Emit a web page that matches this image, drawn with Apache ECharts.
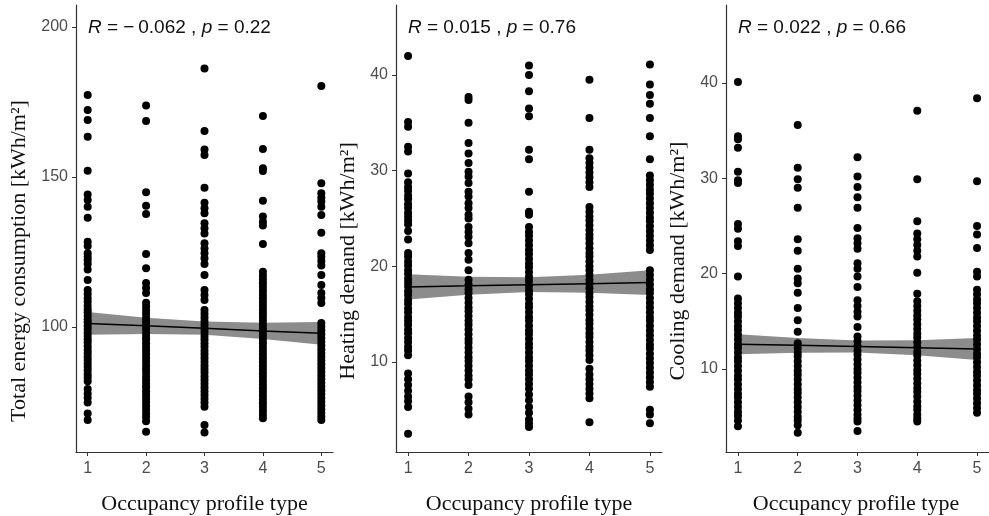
<!DOCTYPE html>
<html>
<head>
<meta charset="utf-8">
<script src="https://cdn.jsdelivr.net/npm/echarts@6/dist/echarts.min.js"></script>
<style>
  html, body { margin: 0; padding: 0; background: #fff; }
  #chart { width: 989px; height: 516px; }
</style>
</head>
<body>
<div id="chart"></div>
<script>
// Occupancy profile types on the x axis
const occupancyTypes = [1, 2, 3, 4, 5];

// Total energy consumption [kWh/m2], one list per occupancy profile type
const totalType1 = [177.3, 172.3, 169.0, 163.4, 152.1, 144.2, 142.3, 140.1, 136.4, 128.4, 127.0, 124.6, 123.4, 122.3, 121.0, 119.2, 115.7,
  112.3, 111.0, 109.6, 108.4, 107.1, 105.8, 104.9, 103.7, 102.5, 101.6, 100.4, 99.3, 98.1, 97.0, 95.8, 94.9, 93.6, 92.4, 91.3, 90.1,
  89.0, 87.8, 86.7, 85.5, 84.2, 83.1, 81.9, 79.3, 77.8, 76.4, 74.8, 71.2, 69.0];
const totalType2 = [173.8, 168.7, 144.9, 140.4, 137.7, 124.3, 119.6, 114.7, 113.0, 111.3,
  108.1, 106.8, 105.5, 104.3, 103.0, 101.8, 100.6, 99.5, 98.2, 97.0, 95.9, 94.6, 93.3, 92.2, 90.9, 89.7, 88.5, 87.2, 86.0, 84.8,
  83.5, 82.3, 81.1, 79.9, 78.6, 77.4, 76.2, 74.9, 73.7, 72.5, 71.2, 70.0, 68.6, 65.1];
const totalType3 = [186.2, 165.3, 159.2, 157.3, 146.4, 141.4, 139.6, 137.9, 134.6, 132.9, 131.2, 127.9, 126.2, 124.6, 122.9, 121.0,
  117.3, 112.3, 110.7, 109.0, 105.7, 104.4, 103.2, 101.9, 100.7, 99.5, 98.3, 97.0, 95.8, 94.6, 93.4, 92.1, 90.9, 89.7, 88.4, 87.2,
  86.0, 84.8, 83.5, 82.3, 81.1, 79.8, 78.6, 77.3, 76.1, 74.8, 73.4, 67.3, 64.8];
const totalType4 = [170.3, 159.3, 152.9, 152.0, 142.1, 136.8, 135.1, 133.8, 127.7,
  118.4, 117.1, 115.8, 114.6, 113.3, 112.1, 110.8, 109.6, 108.3, 107.1, 105.8, 104.6, 103.3, 102.1, 100.8, 99.6, 98.3, 97.1, 95.8,
  94.6, 93.3, 92.1, 90.8, 89.6, 88.3, 87.1, 85.8, 84.6, 83.3, 82.1, 80.8, 79.6, 78.3, 77.1, 75.8, 74.6, 73.3, 72.1, 70.8, 69.6];
const totalType5 = [180.3, 147.9, 144.6, 143.1, 141.8, 140.1, 137.3, 131.4, 124.6, 123.4, 122.0, 120.5, 117.3, 114.0, 111.3, 109.7,
  108.0, 101.3, 100.1, 98.8, 97.6, 96.3, 95.1, 93.8, 92.6, 91.3, 90.1, 88.8, 87.6, 86.3, 85.1, 83.8, 82.6, 81.3, 80.1, 78.8, 77.6,
  76.3, 75.1, 73.8, 72.6, 71.3, 70.1, 69.0];

// Heating demand [kWh/m2]
const heatType1 = [42.0, 35.1, 34.6, 32.5, 32.0, 29.7, 28.8, 28.3, 27.9, 27.4, 27.0, 26.5, 26.1, 25.6, 25.2, 24.8, 24.4, 23.7, 22.8,
  21.4, 21.0, 20.5, 20.1, 19.6, 19.2, 18.7, 18.3, 17.9, 17.4, 17.0, 16.5, 16.1, 15.6, 15.2, 14.7, 14.3, 13.9, 13.4, 13.0, 12.5,
  12.1, 11.6, 11.2, 10.7, 8.8, 8.2, 7.6, 7.0, 6.4, 5.9, 5.3, 2.5];
const heatType2 = [37.7, 37.4, 35.0, 32.9, 31.8, 30.8, 29.9, 29.4, 28.7, 27.8, 27.3, 26.6, 26.1, 25.4, 25.0, 24.1, 23.6, 23.1, 22.4,
  21.4, 20.7, 19.6, 18.6, 18.1, 17.6, 17.2, 16.7, 16.2, 15.7, 15.3, 14.8, 14.3, 13.9, 13.4, 12.9, 12.4, 12.0, 11.5, 11.0, 10.5,
  10.1, 9.6, 9.1, 8.6, 8.2, 7.6, 6.4, 5.8, 5.1, 4.5];
const heatType3 = [41.0, 40.0, 38.3, 36.5, 35.7, 32.2, 31.2, 27.8, 25.7, 25.4, 24.1, 23.6, 23.2, 22.7, 22.2, 21.7, 21.3, 20.8, 20.3,
  19.9, 19.4, 18.9, 18.5, 18.0, 17.5, 17.1, 16.6, 16.1, 15.7, 15.2, 14.7, 14.3, 13.8, 13.3, 12.9, 12.4, 11.9, 11.5, 11.0, 10.5,
  10.1, 9.6, 9.1, 8.7, 8.2, 7.7, 7.2, 6.6, 6.0, 5.3, 4.7, 4.0, 3.6, 3.2];
const heatType4 = [39.5, 35.5, 32.2, 31.3, 30.8, 30.3, 29.8, 29.3, 28.8, 28.3, 26.2, 25.7, 25.2, 24.8, 24.3, 23.8, 23.3, 22.9, 22.4,
  21.9, 21.4, 21.0, 20.5, 20.0, 19.6, 19.1, 18.6, 18.2, 17.7, 17.2, 16.8, 16.3, 15.8, 15.4, 14.9, 14.4, 14.0, 13.5, 13.0, 12.6,
  12.1, 11.6, 11.2, 10.7, 10.2, 9.3, 8.7, 8.2, 7.7, 7.2, 6.7, 6.2, 3.7];
const heatType5 = [41.1, 39.0, 37.9, 37.0, 35.5, 33.6, 31.2, 29.5, 29.0, 28.5, 28.0, 27.6, 27.1, 26.6, 26.1, 25.6, 25.1, 24.7, 24.2,
  23.7, 23.2, 22.7, 22.2, 21.7, 19.6, 19.1, 18.6, 18.1, 17.6, 17.2, 16.7, 16.2, 15.7, 15.2, 14.7, 14.3, 13.8, 13.3, 12.8, 12.3,
  11.8, 11.4, 10.9, 10.4, 9.9, 9.4, 8.9, 8.4, 7.9, 7.4, 5.0, 4.5, 3.6];

// Cooling demand [kWh/m2]
const coolType1 = [40.1, 34.4, 34.1, 33.2, 30.7, 29.8, 29.5, 25.2, 24.7, 23.4, 22.9, 19.7, 17.4, 16.9, 16.4, 15.9, 15.5, 15.0, 14.5,
  14.1, 13.6, 13.1, 12.6, 12.2, 11.7, 11.2, 10.8, 10.3, 9.8, 9.3, 8.9, 8.4, 7.9, 7.4, 7.0, 6.5, 6.0, 5.5, 5.1, 4.6, 4.0];
const coolType2 = [35.6, 31.1, 29.9, 29.0, 26.9, 23.6, 22.4, 20.5, 19.5, 19.0, 18.0, 16.4, 15.1, 13.9, 12.7, 12.2, 11.7, 11.3, 10.8,
  10.3, 9.8, 9.4, 8.9, 8.4, 7.9, 7.5, 7.0, 6.5, 6.0, 5.5, 5.0, 4.6, 4.1, 3.3];
const coolType3 = [32.2, 30.2, 29.1, 28.0, 26.9, 24.8, 23.7, 23.2, 22.6, 21.1, 20.5, 19.7, 18.6, 17.2, 16.6, 16.0, 15.5, 14.4, 13.4,
  12.9, 12.4, 11.9, 11.5, 11.0, 10.5, 10.0, 9.6, 9.1, 8.6, 8.1, 7.7, 7.2, 6.7, 6.2, 5.7, 5.2, 4.8, 4.5, 3.5];
const coolType4 = [37.1, 29.9, 25.5, 24.2, 23.6, 23.0, 22.4, 21.8, 20.1, 17.9, 17.1, 16.6, 16.1, 15.6, 15.2, 14.7, 14.2, 13.7, 13.3,
  12.8, 12.3, 11.8, 11.4, 10.9, 10.4, 9.9, 9.5, 9.0, 8.5, 8.0, 7.6, 7.1, 6.6, 6.1, 5.7, 5.2, 4.8, 4.5];
const coolType5 = [38.4, 29.7, 25.0, 24.1, 22.7, 20.2, 19.7, 18.3, 17.8, 17.3, 16.9, 16.4, 15.9, 15.4, 15.0, 14.5, 14.0, 13.5, 13.1,
  12.6, 12.1, 11.6, 11.2, 10.7, 10.2, 9.7, 9.3, 8.8, 8.3, 7.8, 7.4, 6.9, 6.4, 5.9, 5.4];

// Linear fits and 95% confidence bands at each occupancy type
const totalFit = [101.2, 100.4, 99.6, 98.7, 97.9];
const totalLow = [97.4, 97.7, 97.4, 96.0, 94.1];
const totalHigh = [105.0, 103.1, 101.8, 101.4, 101.7];
const heatFit = [17.85, 17.96, 18.08, 18.19, 18.30];
const heatLow = [16.52, 17.02, 17.31, 17.25, 17.00];
const heatHigh = [19.18, 18.90, 18.85, 19.13, 19.60];
const coolFit = [12.60, 12.48, 12.35, 12.23, 12.10];
const coolLow = [11.55, 11.70, 11.72, 11.45, 10.95];
const coolHigh = [13.65, 13.26, 12.98, 13.01, 13.25];

// Correlation labels
const corrLabels = [
  { r: '\u2212\u20090.062', p: '0.22' },
  { r: '0.015', p: '0.76' },
  { r: '0.022', p: '0.66' }
];
const yTitles = ['Total energy consumption [kWh/m\u00B2]', 'Heating demand [kWh/m\u00B2]', 'Cooling demand [kWh/m\u00B2]'];
const yTicks = [[100, 150, 200], [10, 20, 30, 40], [10, 20, 30, 40]];
const xTitle = 'Occupancy profile type';

const panels = [
  { groups: [totalType1, totalType2, totalType3, totalType4, totalType5], fit: totalFit, low: totalLow, high: totalHigh,
    left: 76, width: 257, yMin: 58.33, yMax: 207.33, titleX: 19 },
  { groups: [heatType1, heatType2, heatType3, heatType4, heatType5], fit: heatFit, low: heatLow, high: heatHigh,
    left: 396, width: 266, yMin: 0.59, yMax: 47.32, titleX: 348 },
  { groups: [coolType1, coolType2, coolType3, coolType4, coolType5], fit: coolFit, low: coolLow, high: coolHigh,
    left: 726, width: 266, yMin: 1.29, yMax: 48.18, titleX: 678 }
];

const labelFont = 'Liberation Sans, Arial, sans-serif';
const serifFont = 'Liberation Serif, Times New Roman, serif';
const axisColor = '#333333';

const grids = [], xAxes = [], yAxes = [], series = [], graphics = [];

panels.forEach((pn, i) => {
  grids.push({ left: pn.left, top: 5, width: pn.width, height: 447, containLabel: false });
  xAxes.push({
    type: 'value', gridIndex: i, min: 0.8, max: 5.2,
    axisLine: { show: true, onZero: false, lineStyle: { color: axisColor, width: 1.2 } },
    axisTick: { show: true, length: 4, customValues: occupancyTypes, lineStyle: { color: axisColor } },
    axisLabel: { customValues: occupancyTypes, color: '#4d4d4d', fontSize: 16, fontFamily: labelFont, margin: 9 },
    splitLine: { show: false }
  });
  yAxes.push({
    type: 'value', gridIndex: i, min: pn.yMin, max: pn.yMax,
    axisLine: { show: true, onZero: false, lineStyle: { color: axisColor, width: 1.2 } },
    axisTick: { show: true, length: 4, customValues: yTicks[i], lineStyle: { color: axisColor } },
    axisLabel: { customValues: yTicks[i], color: '#4d4d4d', fontSize: 16, fontFamily: labelFont, margin: 8 },
    splitLine: { show: false }
  });

  // confidence band
  series.push({
    type: 'custom', xAxisIndex: i, yAxisIndex: i, silent: true, z: 1,
    data: [0],
    renderItem: (params, api) => {
      const pts = [];
      occupancyTypes.forEach((t, k) => pts.push(api.coord([t, pn.high[k]])));
      for (let k = occupancyTypes.length - 1; k >= 0; k--) pts.push(api.coord([occupancyTypes[k], pn.low[k]]));
      return { type: 'polygon', shape: { points: pts }, style: { fill: '#8c8c8c' } };
    }
  });

  // observations
  pn.groups.forEach((vals, g) => {
    series.push({
      type: 'scatter', xAxisIndex: i, yAxisIndex: i, z: 2,
      symbol: 'circle', symbolSize: 8,
      itemStyle: { color: '#000000', opacity: 1 },
      data: vals.map(v => [occupancyTypes[g], v])
    });
  });

  // fitted line
  series.push({
    type: 'line', xAxisIndex: i, yAxisIndex: i, z: 3,
    symbol: 'none', lineStyle: { color: '#000000', width: 1.5 },
    data: occupancyTypes.map((t, k) => [t, pn.fit[k]])
  });

  // correlation annotation
  graphics.push({
    type: 'text', left: pn.left + 12, top: 18,
    style: {
      text: '{i|R} = ' + corrLabels[i].r + ' , {i|p} = ' + corrLabels[i].p,
      font: '19px ' + labelFont, fill: '#111111',
      rich: { i: { fontStyle: 'italic', fontSize: 19, fontFamily: labelFont, fill: '#111111' } }
    }
  });

  // axis titles
  graphics.push({
    type: 'text', x: pn.titleX, y: 261, rotation: Math.PI / 2,
    style: { text: yTitles[i], font: '22px ' + serifFont, fill: '#111111', textAlign: 'center', textVerticalAlign: 'middle' }
  });
  graphics.push({
    type: 'text', x: pn.left + (pn.width - (i === 2 ? 6 : 0)) / 2, y: 504,
    style: { text: xTitle, font: '22px ' + serifFont, fill: '#111111', textAlign: 'center', textVerticalAlign: 'middle' }
  });
});

const chart = echarts.init(document.getElementById('chart'), null, { renderer: 'canvas' });
chart.setOption({
  animation: false,
  backgroundColor: '#ffffff',
  grid: grids,
  xAxis: xAxes,
  yAxis: yAxes,
  series: series,
  graphic: graphics
});
</script>
</body>
</html>
